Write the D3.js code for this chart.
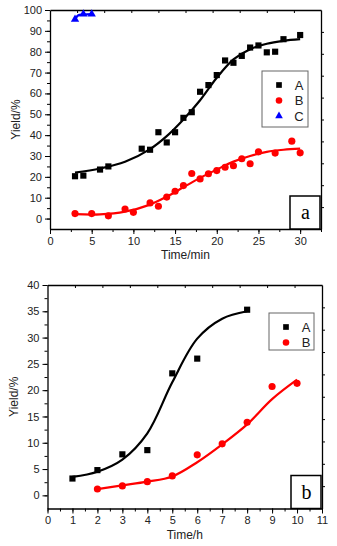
<!DOCTYPE html>
<html>
<head>
<meta charset="utf-8">
<script src="https://cdn.jsdelivr.net/npm/d3@7"></script>
<style>
    body { margin: 0; background: #fff; }
    svg { display: block; font-family: "Liberation Sans", Arial, sans-serif; }
</style>
</head>
<body>
<div id="chart"></div>
<script>
// Panel a: yield vs time (min)
const aTimeA = [3, 4, 6, 7, 11, 12, 13, 14, 15, 16, 17, 18, 19, 20, 21, 22, 23, 24, 25, 26, 27, 28, 30];
const aYieldA = [20.3, 20.6, 23.5, 25, 33.5, 33, 41.4, 36.5, 41.4, 48.3, 51, 60.8, 64, 68.8, 75.8, 74.7, 78, 82, 83, 79.7, 80, 86, 88];
const aTimeB = [3, 5, 7, 9, 10, 12, 13, 14, 15, 16, 17, 18, 19, 20, 21, 22, 23, 24, 25, 27, 29, 30];
const aYieldB = [2.4, 2.4, 1.3, 4.6, 3, 7.5, 5.9, 10.3, 13.1, 15.8, 21.6, 19, 21.5, 23, 24.6, 25.3, 28.7, 26.3, 32, 31.4, 37.1, 31.5];
const aTimeC = [3, 4, 5];
const aYieldC = [95.5, 98, 98];

// fitted curves
const aFitXA = [3, 6, 9, 12, 14, 16, 18, 20, 22, 24, 26, 28, 30];
const aFitYA = [22, 24, 27.2, 33.3, 39.5, 47.5, 56.7, 67.5, 76.3, 81.2, 83.8, 85.2, 86];
const aFitXB = [3, 6, 9, 12, 14, 16, 18, 20, 22, 24, 26, 28, 30];
const aFitYB = [2.1, 2.0, 3.3, 6.7, 10.5, 15, 19.5, 23.5, 27.3, 30, 32, 33, 33.5];
const aFitXC = [3, 3.4, 4, 5];
const aFitYC = [95.5, 97.5, 97.8, 98];

// Panel b: yield vs time (h)
const bTimeA = [1, 2, 3, 4, 5, 6, 8];
const bYieldA = [3.2, 4.8, 7.8, 8.6, 23.2, 26, 35.3];
const bTimeB = [2, 3, 4, 5, 6, 7, 8, 9, 10];
const bYieldB = [1.2, 1.8, 2.6, 3.7, 7.7, 9.8, 13.9, 20.7, 21.3];

const bFitXA = [1, 2, 3, 4, 5, 6, 7, 8];
const bFitYA = [3.5, 4.5, 6.8, 11.8, 21.5, 29.8, 33.6, 35];
const bFitXB = [2, 3, 4, 5, 6, 7, 8, 9, 10];
const bFitYB = [1.2, 1.9, 2.6, 3.6, 6.3, 9.7, 13.5, 18.3, 22];

// tick labels
const aXTicks = [0, 5, 10, 15, 20, 25, 30];
const aYTicks = [0, 10, 20, 30, 40, 50, 60, 70, 80, 90, 100];
const bXTicks = [0, 1, 2, 3, 4, 5, 6, 7, 8, 9, 10, 11];
const bYTicks = [0, 5, 10, 15, 20, 25, 30, 35, 40];

const zip = (xs, ys) => xs.map((x, i) => ({ x, y: ys[i] }));

window.Chart = {
    svg: null,

    init() {
        this.svg = d3.select('#chart').append('svg')
            .attr('width', 337)
            .attr('height', 546);

        this.drawPanel({
            left: 50, right: 321, top: 10, bottom: 229,
            xDomain: [0, 32.5], yDomain: [-5, 100],
            xTicks: aXTicks, yTicks: aYTicks,
            xMinor: 2.5, yMinor: 5,
            xLabel: 'Time/min', tag: 'a',
            series: [
                { name: 'A', shape: 'square', color: '#000', pts: zip(aTimeA, aYieldA), fit: zip(aFitXA, aFitYA) },
                { name: 'B', shape: 'circle', color: '#ff0000', pts: zip(aTimeB, aYieldB), fit: zip(aFitXB, aFitYB) },
                { name: 'C', shape: 'triangle', color: '#0000ff', pts: zip(aTimeC, aYieldC), fit: zip(aFitXC, aFitYC) }
            ],
            legend: { x: 262, y: 71, w: 46, h: 56 }
        });

        this.drawPanel({
            left: 47.5, right: 322, top: 285, bottom: 508.5,
            xDomain: [0, 11], yDomain: [-2.5, 40],
            xTicks: bXTicks, yTicks: bYTicks,
            xMinor: 0.5, yMinor: 2.5,
            xLabel: 'Time/h', tag: 'b',
            series: [
                { name: 'A', shape: 'square', color: '#000', pts: zip(bTimeA, bYieldA), fit: zip(bFitXA, bFitYA) },
                { name: 'B', shape: 'circle', color: '#ff0000', pts: zip(bTimeB, bYieldB), fit: zip(bFitXB, bFitYB) }
            ],
            legend: { x: 269, y: 313, w: 45, h: 37 }
        });
    },

    drawPanel(p) {
        const svg = this.svg;
        const x = d3.scaleLinear().domain(p.xDomain).range([p.left, p.right]);
        const y = d3.scaleLinear().domain(p.yDomain).range([p.bottom, p.top]);

        // minor ticks first, majors drawn over them
        const xMinor = d3.range(p.xDomain[0], p.xDomain[1] + 1e-6, p.xMinor);
        const yMinor = d3.range(0, p.yDomain[1] + 1e-6, p.yMinor);

        svg.append('g')
            .attr('transform', `translate(0,${p.bottom})`)
            .call(d3.axisBottom(x).tickValues(xMinor).tickSize(3).tickFormat(''))
            .call(g => g.select('.domain').remove());
        svg.append('g')
            .attr('transform', `translate(${p.left},0)`)
            .call(d3.axisLeft(y).tickValues(yMinor).tickSize(3).tickFormat(''))
            .call(g => g.select('.domain').remove());

        const xAxis = svg.append('g')
            .attr('transform', `translate(0,${p.bottom})`)
            .call(d3.axisBottom(x).tickValues(p.xTicks).tickSize(5).tickSizeOuter(0).tickPadding(3));
        const yAxis = svg.append('g')
            .attr('transform', `translate(${p.left},0)`)
            .call(d3.axisLeft(y).tickValues(p.yTicks).tickSize(5).tickSizeOuter(0).tickPadding(3));

        [xAxis, yAxis].forEach(g => {
            g.selectAll('text').style('font-size', '11px').attr('fill', '#222');
            g.select('.domain').attr('stroke-width', 1.3);
        });

        // top / right axes with ten even divisions
        const topTicks = d3.range(1, 10).map(i => p.xDomain[0] + i * (p.xDomain[1] - p.xDomain[0]) / 10);
        const rightTicks = d3.range(1, 10).map(i => p.yDomain[0] + i * (p.yDomain[1] - p.yDomain[0]) / 10);

        svg.append('g')
            .attr('transform', `translate(0,${p.top})`)
            .call(d3.axisBottom(x).tickValues(topTicks).tickSize(3).tickSizeOuter(0).tickFormat(''))
            .call(g => g.select('.domain').attr('stroke-width', 1.3));
        svg.append('g')
            .attr('transform', `translate(${p.right},0)`)
            .call(d3.axisRight(y).tickValues(rightTicks).tickSize(3).tickSizeOuter(0).tickFormat(''))
            .call(g => g.select('.domain').attr('stroke-width', 1.3));

        // axis titles
        svg.append('text')
            .attr('x', (p.left + p.right) / 2)
            .attr('y', p.bottom + 30)
            .attr('text-anchor', 'middle')
            .style('font-size', '12px')
            .attr('fill', '#222')
            .text(p.xLabel);

        svg.append('text')
            .attr('transform', `translate(${p.left - 30},${(p.top + p.bottom) / 2}) rotate(-90)`)
            .attr('text-anchor', 'middle')
            .style('font-size', '12px')
            .attr('fill', '#222')
            .text('Yield/%');

        // fitted curves
        const line = d3.line()
            .x(d => x(d.x))
            .y(d => y(d.y))
            .curve(d3.curveCatmullRom.alpha(0.5));

        p.series.forEach(s => {
            svg.append('path')
                .datum(s.fit)
                .attr('fill', 'none')
                .attr('stroke', s.color)
                .attr('stroke-width', 2.2)
                .attr('d', line);
        });

        // data markers
        p.series.forEach(s => {
            svg.append('g').selectAll('path')
                .data(s.pts)
                .enter().append('path')
                .attr('transform', d => `translate(${x(d.x)},${y(d.y)})`)
                .attr('d', this.symbolPath(s.shape))
                .attr('fill', s.color);
        });

        // legend
        const lg = p.legend;
        svg.append('rect')
            .attr('x', lg.x).attr('y', lg.y)
            .attr('width', lg.w).attr('height', lg.h)
            .attr('fill', '#fff')
            .attr('stroke', '#666')
            .attr('stroke-width', 1);

        p.series.forEach((s, i) => {
            const cy = lg.y + 14 + i * 15.5;
            svg.append('path')
                .attr('transform', `translate(${lg.x + 17},${cy})`)
                .attr('d', this.symbolPath(s.shape, 0.85))
                .attr('fill', s.color);
            svg.append('text')
                .attr('x', lg.x + 37)
                .attr('y', cy + 4.5)
                .attr('text-anchor', 'middle')
                .style('font-size', '13px')
                .attr('fill', '#222')
                .text(s.name);
        });

        // panel tag box
        svg.append('rect')
            .attr('x', p.right - 31).attr('y', p.bottom - 33)
            .attr('width', 30).attr('height', 33)
            .attr('fill', '#fff')
            .attr('stroke', '#000')
            .attr('stroke-width', 1.5);
        svg.append('text')
            .attr('x', p.right - 15.5)
            .attr('y', p.bottom - 10)
            .attr('text-anchor', 'middle')
            .style('font-family', '"Liberation Serif", "Times New Roman", serif')
            .style('font-size', '20px')
            .attr('fill', '#000')
            .text(p.tag);
    },

    symbolPath(shape, scale = 1) {
        if (shape === 'square') return d3.symbol(d3.symbolSquare, 38 * scale)();
        if (shape === 'circle') return d3.symbol(d3.symbolCircle, 40 * scale)();
        return d3.symbol(d3.symbolTriangle, 30 * scale)();
    }
};

Chart.init();
</script>
</body>
</html>
